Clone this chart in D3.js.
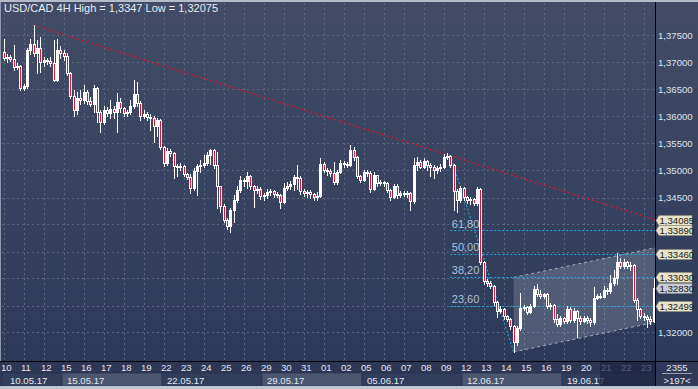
<!DOCTYPE html>
<html>
<head>
<meta charset="utf-8">
<script src="https://cdn.jsdelivr.net/npm/d3@7"></script>
<style>
  html, body { margin: 0; padding: 0; background: #2c3a58; overflow: hidden; }
  svg { display: block; font-family: "Liberation Sans", Arial, sans-serif; }
</style>
</head>
<body>
<svg id="chart" width="698" height="389"></svg>
<script>
const title = 'USD/CAD 4H High = 1,3347 Low = 1,32075';
const barsPerDay = 6;
const dayLabels = ['10','11','12','15','16','17','18','19','22','23','24','25','26','29','30','31',
                   '01','02','05','06','07','08','09','12','13','14','15','16','19','20','21','22','23'];
const weekStarts = [0, 3, 8, 13, 18, 23, 28];
const weekLabels = ['10.05.17','15.05.17','22.05.17','29.05.17','05.06.17','12.06.17','19.06.17'];
const priceTicks = [1.320, 1.325, 1.330, 1.335, 1.340, 1.345, 1.350, 1.355, 1.360, 1.365, 1.370, 1.375];

// open, high, low, close per 4H bar
const ohlc = [
  [1.3719,1.3744,1.3705,1.3708],[1.3708,1.3716,1.3701,1.3710],[1.3710,1.3714,1.3703,1.3706],[1.3706,1.3732,1.3686,1.3692],
  [1.3692,1.3699,1.3688,1.3694],[1.3694,1.3695,1.3649,1.3653],[1.3653,1.3660,1.3649,1.3657],[1.3657,1.3727,1.3653,1.3723],
  [1.3723,1.3744,1.3716,1.3734],[1.3734,1.3769,1.3712,1.3718],[1.3718,1.3742,1.3681,1.3727],[1.3727,1.3747,1.3682,1.3701],
  [1.3701,1.3710,1.3694,1.3705],[1.3705,1.3708,1.3697,1.3703],[1.3703,1.3710,1.3694,1.3699],[1.3699,1.3742,1.3666,1.3668],
  [1.3668,1.3744,1.3666,1.3723],[1.3723,1.3730,1.3708,1.3718],[1.3718,1.3723,1.3705,1.3712],[1.3712,1.3718,1.3677,1.3681],
  [1.3681,1.3682,1.3634,1.3638],[1.3638,1.3649,1.3601,1.3612],[1.3612,1.3645,1.3605,1.3634],[1.3634,1.3649,1.3623,1.3631],
  [1.3631,1.3658,1.3625,1.3645],[1.3645,1.3649,1.3623,1.3629],[1.3629,1.3636,1.3620,1.3623],[1.3623,1.3658,1.3608,1.3653],
  [1.3653,1.3655,1.3590,1.3608],[1.3608,1.3612,1.3571,1.3590],[1.3590,1.3620,1.3586,1.3612],[1.3612,1.3618,1.3601,1.3607],
  [1.3607,1.3631,1.3597,1.3614],[1.3614,1.3620,1.3597,1.3608],[1.3608,1.3644,1.3571,1.3627],[1.3627,1.3634,1.3608,1.3616],
  [1.3616,1.3618,1.3601,1.3607],[1.3607,1.3612,1.3601,1.3608],[1.3608,1.3631,1.3605,1.3620],[1.3620,1.3668,1.3616,1.3642],
  [1.3642,1.3664,1.3620,1.3625],[1.3625,1.3629,1.3593,1.3601],[1.3601,1.3612,1.3597,1.3605],[1.3605,1.3608,1.3593,1.3599],
  [1.3599,1.3605,1.3575,1.3597],[1.3597,1.3601,1.3553,1.3582],[1.3582,1.3597,1.3564,1.3593],[1.3593,1.3595,1.3540,1.3544],
  [1.3544,1.3545,1.3508,1.3514],[1.3514,1.3542,1.3510,1.3536],[1.3536,1.3540,1.3527,1.3532],[1.3532,1.3534,1.3486,1.3508],
  [1.3508,1.3512,1.3490,1.3506],[1.3506,1.3514,1.3501,1.3508],[1.3508,1.3510,1.3490,1.3493],[1.3493,1.3495,1.3484,1.3488],
  [1.3488,1.3493,1.3458,1.3468],[1.3468,1.3505,1.3464,1.3499],[1.3499,1.3512,1.3455,1.3508],[1.3508,1.3519,1.3497,1.3510],
  [1.3510,1.3529,1.3506,1.3514],[1.3514,1.3534,1.3510,1.3529],[1.3529,1.3540,1.3512,1.3538],[1.3538,1.3540,1.3505,1.3510],
  [1.3510,1.3534,1.3431,1.3471],[1.3471,1.3471,1.3423,1.3434],[1.3434,1.3438,1.3405,1.3408],[1.3408,1.3412,1.3392,1.3397],
  [1.3397,1.3431,1.3386,1.3427],[1.3427,1.3455,1.3405,1.3445],[1.3445,1.3471,1.3442,1.3464],[1.3464,1.3490,1.3460,1.3482],
  [1.3482,1.3486,1.3471,1.3480],[1.3480,1.3497,1.3468,1.3490],[1.3490,1.3492,1.3466,1.3471],[1.3471,1.3473,1.3432,1.3464],
  [1.3464,1.3471,1.3458,1.3466],[1.3466,1.3469,1.3447,1.3453],[1.3453,1.3458,1.3445,1.3455],[1.3455,1.3466,1.3449,1.3460],
  [1.3460,1.3466,1.3455,1.3462],[1.3462,1.3464,1.3451,1.3456],[1.3456,1.3460,1.3451,1.3455],[1.3455,1.3456,1.3431,1.3442],
  [1.3442,1.3477,1.3440,1.3468],[1.3468,1.3479,1.3464,1.3471],[1.3471,1.3480,1.3466,1.3475],[1.3475,1.3492,1.3464,1.3488],
  [1.3488,1.3510,1.3466,1.3486],[1.3486,1.3490,1.3456,1.3462],[1.3462,1.3466,1.3453,1.3458],[1.3458,1.3464,1.3451,1.3460],
  [1.3460,1.3464,1.3449,1.3456],[1.3456,1.3458,1.3445,1.3451],[1.3451,1.3460,1.3445,1.3453],[1.3453,1.3523,1.3451,1.3512],
  [1.3512,1.3516,1.3497,1.3501],[1.3501,1.3505,1.3492,1.3499],[1.3499,1.3503,1.3490,1.3495],[1.3495,1.3516,1.3475,1.3479],
  [1.3479,1.3501,1.3475,1.3497],[1.3497,1.3519,1.3495,1.3514],[1.3514,1.3518,1.3506,1.3512],[1.3512,1.3516,1.3506,1.3510],
  [1.3510,1.3547,1.3508,1.3538],[1.3538,1.3544,1.3519,1.3525],[1.3525,1.3527,1.3486,1.3490],[1.3490,1.3492,1.3479,1.3482],
  [1.3482,1.3501,1.3480,1.3497],[1.3497,1.3501,1.3490,1.3495],[1.3495,1.3499,1.3460,1.3466],[1.3466,1.3497,1.3464,1.3492],
  [1.3492,1.3492,1.3471,1.3477],[1.3477,1.3482,1.3473,1.3479],[1.3479,1.3480,1.3471,1.3477],[1.3477,1.3479,1.3460,1.3464],
  [1.3464,1.3466,1.3445,1.3451],[1.3451,1.3475,1.3449,1.3471],[1.3471,1.3475,1.3449,1.3455],[1.3455,1.3462,1.3451,1.3458],
  [1.3458,1.3462,1.3453,1.3456],[1.3456,1.3462,1.3451,1.3458],[1.3458,1.3460,1.3427,1.3444],[1.3444,1.3523,1.3440,1.3510],
  [1.3510,1.3525,1.3501,1.3516],[1.3516,1.3519,1.3505,1.3506],[1.3506,1.3523,1.3505,1.3518],[1.3518,1.3519,1.3501,1.3510],
  [1.3510,1.3514,1.3490,1.3506],[1.3506,1.3510,1.3486,1.3501],[1.3501,1.3508,1.3495,1.3505],[1.3505,1.3512,1.3499,1.3506],
  [1.3506,1.3531,1.3505,1.3525],[1.3525,1.3532,1.3521,1.3527],[1.3527,1.3529,1.3506,1.3510],[1.3510,1.3512,1.3427,1.3462],
  [1.3462,1.3466,1.3423,1.3445],[1.3445,1.3471,1.3442,1.3468],[1.3468,1.3469,1.3445,1.3451],[1.3451,1.3453,1.3440,1.3445],
  [1.3445,1.3451,1.3438,1.3447],[1.3447,1.3449,1.3436,1.3440],[1.3440,1.3469,1.3436,1.3466],[1.3466,1.3468,1.3327,1.3331],
  [1.3331,1.3332,1.3290,1.3295],[1.3295,1.3299,1.3286,1.3292],[1.3292,1.3295,1.3282,1.3286],[1.3286,1.3288,1.3251,1.3257],
  [1.3257,1.3258,1.3229,1.3240],[1.3240,1.3249,1.3236,1.3244],[1.3244,1.3245,1.3225,1.3231],[1.3231,1.3232,1.3221,1.3225],
  [1.3225,1.3227,1.3206,1.3212],[1.3212,1.3214,1.3164,1.3182],[1.3182,1.3212,1.3177,1.3208],[1.3208,1.3273,1.3204,1.3245],
  [1.3245,1.3251,1.3242,1.3247],[1.3247,1.3249,1.3234,1.3238],[1.3238,1.3253,1.3236,1.3249],[1.3249,1.3286,1.3247,1.3281],
  [1.3281,1.3290,1.3268,1.3271],[1.3271,1.3279,1.3264,1.3268],[1.3268,1.3273,1.3264,1.3271],[1.3271,1.3273,1.3245,1.3249],
  [1.3249,1.3255,1.3244,1.3251],[1.3251,1.3253,1.3219,1.3225],[1.3225,1.3234,1.3212,1.3216],[1.3216,1.3231,1.3212,1.3227],
  [1.3227,1.3229,1.3218,1.3221],[1.3221,1.3249,1.3218,1.3244],[1.3244,1.3247,1.3219,1.3223],[1.3223,1.3245,1.3219,1.3240],
  [1.3240,1.3242,1.3191,1.3227],[1.3227,1.3231,1.3216,1.3221],[1.3221,1.3231,1.3219,1.3227],[1.3227,1.3231,1.3218,1.3223],
  [1.3223,1.3227,1.3212,1.3219],[1.3219,1.3284,1.3216,1.3264],[1.3264,1.3271,1.3262,1.3268],[1.3268,1.3273,1.3264,1.3266],
  [1.3266,1.3286,1.3266,1.3279],[1.3279,1.3282,1.3271,1.3277],[1.3277,1.3306,1.3273,1.3292],[1.3292,1.3316,1.3288,1.3301],
  [1.3301,1.3347,1.3290,1.3331],[1.3331,1.3338,1.3319,1.3323],[1.3323,1.3336,1.3319,1.3331],[1.3331,1.3332,1.3319,1.3323],
  [1.3323,1.3331,1.3316,1.3325],[1.3325,1.3327,1.3257,1.3260],[1.3260,1.3264,1.3223,1.3244],[1.3244,1.3245,1.3227,1.3231],
  [1.3231,1.3236,1.3223,1.3229],[1.3229,1.3232,1.3210,1.3225],[1.3225,1.3231,1.3216,1.3221],[1.3221,1.3301,1.3219,1.3283]
];

// drawing objects: [bar index, price]
const trendLine = [[9.5, 1.3769], [196, 1.34085]];
const fibHigh = [134.5, 1.3528];
const fibLow = [153.5, 1.3164];
const fibLevels = [23.6, 38.2, 50.0, 61.8];
const channelTop = [[153.5, 1.3302], [196, 1.3357]];
const channelBottom = [[153.5, 1.3164], [196, 1.3219]];
const priceTags = [1.34085, 1.33890, 1.33460, 1.33030, 1.32499];
const lastPrice = 1.32830;
const barCount = ['2355', '>197<'];

const W = 698, H = 389;
const plot = {l: 2, r: 655, t: 3, b: 361};
const comma = v => d3.format('.5f')(v).replace('.', ',');
const axisFont = 9.6;

const svg = d3.select('#chart');
const x = d3.scaleLinear().domain([0, ohlc.length]).range([plot.l, plot.l + ohlc.length * 20 / barsPerDay]);
const y = d3.scaleLinear().domain([1.31, 1.38]).range([386.5, 8.5]);

const defs = svg.append('defs');
const grad = defs.append('linearGradient').attr('id', 'bg').attr('x1', 0).attr('y1', 0).attr('x2', 0).attr('y2', 1);
grad.append('stop').attr('offset', '0%').attr('stop-color', '#424c66');
grad.append('stop').attr('offset', '100%').attr('stop-color', '#2c3a59');
defs.append('clipPath').attr('id', 'plotClip').append('rect')
  .attr('x', plot.l).attr('y', plot.t).attr('width', plot.r - plot.l).attr('height', plot.b - plot.t);

// backgrounds
svg.append('rect').attr('width', W).attr('height', H).attr('fill', '#2c3a58');
svg.append('rect').attr('x', 0).attr('y', 0).attr('width', W).attr('height', plot.b).attr('fill', 'url(#bg)');
svg.append('rect').attr('x', 0).attr('y', 0).attr('width', W).attr('height', 2).attr('fill', '#b4bccb');
svg.append('rect').attr('x', 0).attr('y', 2).attr('width', 1).attr('height', plot.b - 2).attr('fill', '#8d96aa');

const g = svg.append('g').attr('clip-path', 'url(#plotClip)');

// grid
g.append('g').selectAll('line').data(priceTicks).join('line')
  .attr('x1', plot.l).attr('x2', plot.r)
  .attr('y1', d => Math.round(y(d)) + 0.5).attr('y2', d => Math.round(y(d)) + 0.5)
  .attr('stroke', '#5c6783').attr('stroke-dasharray', '2,3');
g.append('g').selectAll('line').data(dayLabels).join('line')
  .attr('x1', (d, i) => Math.round(x(i * barsPerDay)) + 2.5).attr('x2', (d, i) => Math.round(x(i * barsPerDay)) + 2.5)
  .attr('y1', plot.t).attr('y2', plot.b)
  .attr('stroke', '#5c6783').attr('stroke-dasharray', '2,3');

// trend channel
const chPoly = channelTop.concat(channelBottom.slice().reverse());
g.append('path')
  .attr('d', d3.line().x(d => x(d[0])).y(d => y(d[1]))(chPoly) + 'Z')
  .attr('fill', 'rgba(215,220,232,0.2)');
[channelTop, channelBottom].forEach(seg => {
  g.append('path')
    .attr('d', d3.line().x(d => x(d[0])).y(d => y(d[1]))(seg))
    .attr('fill', 'none').attr('stroke', '#a3aabd').attr('stroke-width', 1).attr('stroke-dasharray', '3,3');
});

// fibonacci
const fibRange = fibHigh[1] - fibLow[1];
g.append('line')
  .attr('x1', x(fibHigh[0])).attr('y1', y(fibHigh[1]))
  .attr('x2', x(fibLow[0])).attr('y2', y(fibLow[1]))
  .attr('stroke', '#1f9fe0').attr('stroke-width', 1.2).attr('stroke-dasharray', '2,2');
const fibG = g.append('g').selectAll('g').data(fibLevels).join('g');
fibG.append('line')
  .attr('x1', x(fibHigh[0])).attr('x2', plot.r)
  .attr('y1', d => Math.round(y(fibLow[1] + fibRange * d / 100)) + 0.5)
  .attr('y2', d => Math.round(y(fibLow[1] + fibRange * d / 100)) + 0.5)
  .attr('stroke', '#22a8ec').attr('stroke-width', 1).attr('stroke-dasharray', '2,2');
fibG.append('text')
  .attr('x', x(fibHigh[0]) + 1.5)
  .attr('y', d => y(fibLow[1] + fibRange * d / 100) - 2.5)
  .attr('font-size', 11).attr('fill', '#a9c3df')
  .text(d => d3.format('.2f')(d).replace('.', ','));

// red trend line
g.append('line')
  .attr('x1', x(trendLine[0][0])).attr('y1', y(trendLine[0][1]))
  .attr('x2', x(trendLine[1][0])).attr('y2', y(trendLine[1][1]))
  .attr('stroke', '#d0182c').attr('stroke-width', 1.6).attr('stroke-dasharray', '2,3');

// candles
const cx = i => Math.round(x(i + 0.5));
const bars = g.append('g').selectAll('g').data(ohlc).join('g');
bars.append('line')
  .attr('x1', (d, i) => cx(i) + 0.5).attr('x2', (d, i) => cx(i) + 0.5)
  .attr('y1', d => Math.round(y(d[1]))).attr('y2', d => Math.round(y(d[2])) + 1)
  .attr('stroke', '#ffffff').attr('stroke-width', 1);
bars.append('rect')
  .attr('x', (d, i) => cx(i) - 0.5)
  .attr('y', d => Math.round(y(Math.max(d[0], d[3]))) + 0.5)
  .attr('width', 2)
  .attr('height', d => Math.max(0.5, Math.round(y(Math.min(d[0], d[3]))) - Math.round(y(Math.max(d[0], d[3])))))
  .attr('fill', d => d[3] >= d[0] ? '#ffffff' : '#e4122e')
  .attr('stroke', '#ffffff').attr('stroke-width', 1);

// title
svg.append('text').attr('x', 4).attr('y', 12).attr('font-size', 11).attr('fill', '#e8ebf2').text(title);

// price axis (labels hidden behind a price tag are left out, as on the original)
const tagValues = priceTags.concat([lastPrice]);
const visibleTicks = priceTicks.filter(t => tagValues.every(v => Math.abs(y(t) - y(v)) > 8));
svg.append('line').attr('x1', plot.r + 0.5).attr('x2', plot.r + 0.5).attr('y1', 2).attr('y2', plot.b)
  .attr('stroke', '#000');
const yAxis = d3.axisRight(y).tickValues(visibleTicks).tickSize(0).tickPadding(3).tickFormat(comma);
svg.append('g').attr('transform', `translate(${plot.r},0)`).call(yAxis)
  .call(s => s.select('.domain').remove())
  .call(s => s.selectAll('text').attr('font-size', axisFont).attr('fill', '#dfe3ec')
    .attr('font-family', '"Liberation Sans", Arial, sans-serif'));

function tag(v, fill) {
  const yy = Math.round(y(v)) + 0.5;
  const x0 = plot.r + 1, x1 = 692;
  svg.append('path')
    .attr('d', `M${x0},${yy} L${x0 + 3},${yy - 5} H${x1} V${yy + 5} H${x0 + 3} Z`)
    .attr('fill', fill).attr('stroke', '#8f8c78').attr('stroke-width', 0.6);
  svg.append('text').attr('x', x0 + 3.5).attr('y', yy + 3.5).attr('font-size', axisFont).attr('fill', '#1d1d1d')
    .text(comma(v));
}
priceTags.forEach(v => tag(v, '#e7e3c6'));
tag(lastPrice, '#c6cbd7');

// time axis
svg.append('rect').attr('x', 0).attr('y', plot.b).attr('width', W).attr('height', H - plot.b).attr('fill', '#2b3755');
svg.append('line').attr('x1', 0).attr('x2', W).attr('y1', plot.b + 0.5).attr('y2', plot.b + 0.5).attr('stroke', '#000');
const weekEnds = weekStarts.slice(1).concat([dayLabels.length]);
svg.append('g').selectAll('rect').data(weekStarts).join('rect')
  .attr('x', d => x(d * barsPerDay))
  .attr('y', 373)
  .attr('width', (d, i) => Math.min(x(weekEnds[i] * barsPerDay), plot.r) - x(d * barsPerDay))
  .attr('height', 13)
  .attr('fill', (d, i) => i % 2 ? '#4b566f' : '#303d5b')
  .attr('stroke', '#26324c').attr('stroke-width', 0.6);
svg.append('g').selectAll('text').data(weekLabels).join('text')
  .attr('x', (d, i) => x(weekStarts[i] * barsPerDay) + (i === 0 ? 8 : 5))
  .attr('y', 383.5).attr('font-size', axisFont).attr('fill', '#e4e7ee').text(d => d);
svg.append('g').selectAll('text').data(dayLabels).join('text')
  .attr('x', (d, i) => x(i * barsPerDay) - 1)
  .attr('y', 370.5).attr('font-size', axisFont).attr('fill', '#e4e7ee').text(d => d);
// shaded end of the time scale
svg.append('rect').attr('x', x(30 * barsPerDay) - 2).attr('y', plot.b + 1)
  .attr('width', plot.r - x(30 * barsPerDay) + 2).attr('height', 25)
  .attr('fill', '#1c2642').attr('opacity', 0.72);

// bar counter box
svg.append('rect').attr('x', plot.r + 1).attr('y', plot.b + 1).attr('width', W - plot.r - 1).attr('height', 25)
  .attr('fill', '#2d3956');
svg.append('line').attr('x1', plot.r + 0.5).attr('x2', plot.r + 0.5).attr('y1', plot.b).attr('y2', 386)
  .attr('stroke', '#000');
svg.append('text').attr('x', 677).attr('y', 370.5).attr('text-anchor', 'middle').attr('font-size', axisFont)
  .attr('fill', '#e4e7ee').text(barCount[0]);
svg.append('line').attr('x1', 662).attr('x2', 692).attr('y1', 373.5).attr('y2', 373.5).attr('stroke', '#9aa1b3');
svg.append('text').attr('x', 677).attr('y', 384).attr('text-anchor', 'middle').attr('font-size', axisFont)
  .attr('fill', '#e4e7ee').text(barCount[1]);
svg.append('rect').attr('x', 0).attr('y', 386).attr('width', W).attr('height', 3).attr('fill', '#bfc5d2');
</script>
</body>
</html>
